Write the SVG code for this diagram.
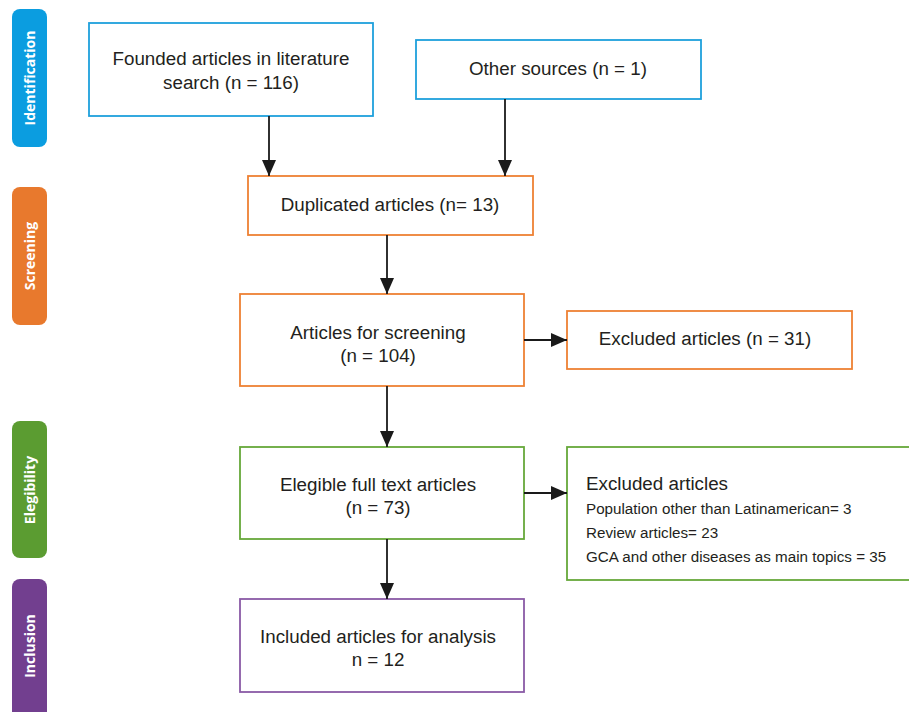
<svg xmlns="http://www.w3.org/2000/svg" width="909" height="712" viewBox="0 0 909 712">
<style>
.box{fill:#fff;stroke-width:1.8}
.b{stroke:#1ea0dc}.o{stroke:#ee8133}.g{stroke:#66a83a}.p{stroke:#8a5aa6}
.t{font-family:"Liberation Sans",Arial,sans-serif;font-size:18.8px;fill:#231f20;text-anchor:middle}
.s{font-family:"Liberation Sans",Arial,sans-serif;font-size:15.2px;fill:#231f20}
.lab{font-family:"Open Sans","Liberation Sans",sans-serif;font-size:14px;font-weight:bold;fill:#fff;text-anchor:middle}
.con{stroke:#1a1a1a;stroke-width:1.8;fill:none;marker-end:url(#ah)}
</style>
<defs>
<marker id="ah" viewBox="0 0 16 14" refX="16" refY="7" markerWidth="16" markerHeight="14" markerUnits="userSpaceOnUse" orient="auto">
<path d="M0,0 L16,7 L0,14 z" fill="#1a1a1a"/>
</marker>
</defs>
<rect width="909" height="712" fill="#fff"/>
<g id="stage-identification"><rect x="12" y="9" width="35" height="138" rx="8" fill="#0b9de0"/><text class="lab" transform="translate(35,78) rotate(-90)">Identification</text></g>
<g id="stage-screening"><rect x="12" y="187" width="35" height="138" rx="8" fill="#e8792d"/><text class="lab" transform="translate(35,256) rotate(-90)">Screening</text></g>
<g id="stage-elegibility"><rect x="12" y="421" width="35" height="137" rx="8" fill="#5b9c31"/><text class="lab" transform="translate(35,490) rotate(-90)">Elegibility</text></g>
<g id="stage-inclusion"><rect x="12" y="579" width="35" height="140" rx="8" fill="#723f8f"/><text class="lab" transform="translate(35,646) rotate(-90)">Inclusion</text></g>

<g id="founded"><rect class="box b" x="89" y="23" width="284" height="93"/><text class="t" x="231" y="65">Founded articles in literature</text><text class="t" x="231" y="89">search (n = 116)</text></g>
<g id="other"><rect class="box b" x="416" y="40" width="285" height="59"/><text class="t" x="558" y="75">Other sources (n = 1)</text></g>
<g id="duplicated"><rect class="box o" x="248" y="176" width="285" height="59"/><text class="t" x="390" y="211">Duplicated articles (n= 13)</text></g>
<g id="screening"><rect class="box o" x="240" y="294" width="284" height="92"/><text class="t" x="378" y="339">Articles for screening</text><text class="t" x="378" y="362">(n = 104)</text></g>
<g id="excluded31"><rect class="box o" x="567" y="311" width="285" height="58"/><text class="t" x="705" y="345">Excluded articles (n = 31)</text></g>
<g id="elegible"><rect class="box g" x="240" y="447" width="284" height="92"/><text class="t" x="378" y="491">Elegible full text articles</text><text class="t" x="378" y="514">(n = 73)</text></g>
<g id="excluded-full"><rect class="box g" x="567" y="447" width="350" height="133"/><text class="t" x="586" y="490" style="text-anchor:start">Excluded articles</text><text class="s" x="586" y="514">Population other than Latinamerican= 3</text><text class="s" x="586" y="538">Review articles= 23</text><text class="s" x="586" y="562">GCA and other diseases as main topics = 35</text></g>
<g id="included"><rect class="box p" x="240" y="599" width="284" height="93"/><text class="t" x="378" y="643">Included articles for analysis</text><text class="t" x="378" y="666">n = 12</text></g>

<g id="connectors">
<line class="con" x1="269" y1="116" x2="269" y2="176"/>
<line class="con" x1="505" y1="99" x2="505" y2="176"/>
<line class="con" x1="387" y1="235" x2="387" y2="294"/>
<line class="con" x1="387" y1="386" x2="387" y2="447"/>
<line class="con" x1="387" y1="539" x2="387" y2="599"/>
<line class="con" x1="524" y1="340" x2="567" y2="340"/>
<line class="con" x1="524" y1="493" x2="567" y2="493"/>
</g>
</svg>
